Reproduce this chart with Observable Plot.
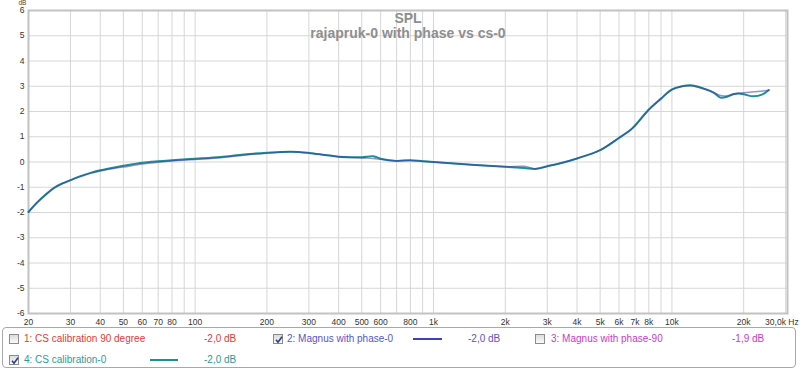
<!DOCTYPE html>
<html>
<head>
<meta charset="utf-8">
<script src="https://cdn.jsdelivr.net/npm/d3@7"></script>
<script src="https://cdn.jsdelivr.net/npm/@observablehq/plot@0.6"></script>
<style>
  html, body { margin: 0; padding: 0; background: #fff; }
  #wrap { position: relative; width: 800px; height: 372px; font-family: "Liberation Sans", Arial, sans-serif; }
  #legend { position: absolute; left: 2px; top: 327px; width: 794px; height: 41px; border: 1px solid #a8a8a8; border-radius: 4px; box-sizing: border-box; }
  .lg { position: absolute; font-size: 10px; line-height: 12px; white-space: nowrap; }
  .cb { position: absolute; width: 10px; height: 10px; box-sizing: border-box; border: 1px solid #8c8c8c; background: linear-gradient(#dcdcdc, #fafafa); }
  .cb svg { position: absolute; left: 0; top: 0; }
  .sw { position: absolute; height: 2px; }
</style>
</head>
<body>
<div id="wrap"></div>
<script>
// ---- data ----
const freqs   = [20, 21.8, 23.6, 25.5, 27.7, 30, 33, 36.4, 40, 44, 50, 60, 70, 80, 100, 128, 160, 200, 252, 300, 350, 400, 450, 500, 560, 600, 700, 800, 900, 1000, 1180, 1500, 2000, 2400, 2700, 3000, 3500, 4000, 5000, 6000, 6700, 7000, 8000, 9000, 10000, 11000, 12000, 13000, 14000, 15000, 16000, 17000, 18000, 19000, 20000, 22000, 24000, 25500];
const csCal0  = [-1.98, -1.59, -1.29, -1.03, -0.85, -0.72, -0.56, -0.43, -0.33, -0.25, -0.15, -0.03, 0.03, 0.07, 0.13, 0.20, 0.30, 0.37, 0.41, 0.36, 0.28, 0.21, 0.19, 0.19, 0.23, 0.13, 0.04, 0.07, 0.03, 0.00, -0.05, -0.12, -0.19, -0.24, -0.27, -0.17, -0.02, 0.14, 0.47, 0.95, 1.27, 1.45, 2.08, 2.51, 2.88, 3.00, 3.04, 2.97, 2.86, 2.74, 2.55, 2.58, 2.68, 2.71, 2.68, 2.60, 2.68, 2.85];
const magnus0 = [-1.98, -1.60, -1.31, -1.05, -0.86, -0.72, -0.58, -0.45, -0.36, -0.28, -0.20, -0.08, -0.01, 0.04, 0.10, 0.17, 0.27, 0.35, 0.41, 0.36, 0.28, 0.21, 0.18, 0.16, 0.14, 0.11, 0.05, 0.06, 0.03, 0.00, -0.05, -0.12, -0.19, -0.17, -0.27, -0.17, -0.02, 0.14, 0.47, 0.97, 1.27, 1.42, 2.06, 2.51, 2.86, 2.99, 3.02, 2.95, 2.87, 2.75, 2.63, 2.62, 2.67, 2.72, 2.74, 2.78, 2.81, 2.84];

const gridFreqs = [20, 30, 40, 50, 60, 70, 80, 90, 100, 200, 300, 400, 500, 600, 700, 800, 900, 1000, 2000, 3000, 4000, 5000, 6000, 7000, 8000, 9000, 10000, 20000, 30000];
const xTickValues = [20, 30, 40, 50, 60, 70, 80, 100, 200, 300, 400, 500, 600, 800, 1000, 2000, 3000, 4000, 5000, 6000, 7000, 8000, 10000, 20000];
const xTickLabels = ["20", "30", "40", "50", "60", "70", "80", "100", "200", "300", "400", "500", "600", "800", "1k", "2k", "3k", "4k", "5k", "6k", "7k", "8k", "10k", "20k"];
const xLastTick = [30000];
const xLastLabel = ["30,0k Hz"];
const yTickValues = [-6, -5, -4, -3, -2, -1, 0, 1, 2, 3, 4, 5, 6];

const titleText = "SPL";
const subtitleText = "rajapruk-0 with phase vs cs-0";

const legendItems = [
  {name: "1: CS calibration 90 degree", value: "-2,0 dB", checked: false, color: "#e03a3a", line: null},
  {name: "2: Magnus with phase-0", value: "-2,0 dB", checked: true, color: "#5656c8", line: "#4040b4"},
  {name: "3: Magnus with phase-90", value: "-1,9 dB", checked: false, color: "#c83cc8", line: null},
  {name: "4: CS calibration-0", value: "-2,0 dB", checked: true, color: "#2a9a9a", line: "#1f9090"}
];

const tealData = freqs.map((f, i) => ({f, db: csCal0[i]}));
const blueData = freqs.map((f, i) => ({f, db: magnus0[i]}));
const xTicks = xTickValues.map((v, i) => ({v, label: xTickLabels[i]}));
const xLast = xLastTick.map((v, i) => ({v, label: xLastLabel[i]}));

const chart = Plot.plot({
  width: 800,
  height: 328,
  marginLeft: 28,
  marginRight: 13,
  marginTop: 10,
  marginBottom: 15,
  style: {fontFamily: "'Liberation Sans', Arial, sans-serif", background: "#fff"},
  x: {type: "log", domain: [20, 30540], axis: null},
  y: {domain: [-6, 6], axis: null},
  marks: [
    Plot.ruleX(gridFreqs, {stroke: "#d6d6d6", strokeWidth: 1}),
    Plot.ruleY(yTickValues, {stroke: "#d6d6d6", strokeWidth: 1}),
    Plot.frame({stroke: "#c2c2c2", strokeWidth: 2}),
    Plot.text(xTicks, {x: "v", text: "label", frameAnchor: "bottom", lineAnchor: "top", dy: 5, fontSize: 8.5, fill: "#333"}),
    Plot.text(xLast, {x: "v", text: "label", frameAnchor: "bottom", lineAnchor: "top", textAnchor: "end", dx: 13, dy: 5, fontSize: 8.5, fill: "#333"}),
    Plot.text(yTickValues, {y: d => d, text: d => String(d), frameAnchor: "left", textAnchor: "end", dx: -4, fontSize: 8.5, fill: "#333"}),
    Plot.text([titleText], {frameAnchor: "top", dy: 3, fontSize: 14, fontWeight: "bold", fill: "#8e8e8e"}),
    Plot.text([subtitleText], {frameAnchor: "top", dy: 18, fontSize: 14, fontWeight: "bold", fill: "#8e8e8e"}),
    Plot.text(["dB"], {frameAnchor: "top-left", dx: -10, dy: -10, fontSize: 6.5, fill: "#444"}),
    Plot.line(tealData, {x: "f", y: "db", stroke: "#1f9090", strokeWidth: 2, curve: "catmull-rom"}),
    Plot.line(blueData, {x: "f", y: "db", stroke: "#3a3ab0", strokeWidth: 1.5, strokeOpacity: 0.55, curve: "catmull-rom"})
  ]
});

const wrap = document.getElementById("wrap");
wrap.appendChild(chart);
chart.style.position = "absolute";
chart.style.left = "0";
chart.style.top = "0";

const legend = document.createElement("div");
legend.id = "legend";
wrap.appendChild(legend);

const layout = [
  {cb: [9, 334], text: [24, 333], val: [204, 333], line: null},
  {cb: [273, 334], text: [287, 333], val: [468, 333], line: [413, 338, 29]},
  {cb: [535, 334], text: [551, 333], val: [732, 333], line: null},
  {cb: [9, 355], text: [24, 354], val: [204, 354], line: [150, 359, 28]}
];

const checkSvg = '<svg width="10" height="10" viewBox="0 0 10 10"><path d="M2 4.8 L4 7.2 L8 1.8" fill="none" stroke="#2b3f8f" stroke-width="1.6"/></svg>';

legendItems.forEach((it, i) => {
  const L = layout[i];
  const cb = document.createElement("div");
  cb.className = "cb";
  cb.style.left = L.cb[0] + "px";
  cb.style.top = L.cb[1] + "px";
  if (it.checked) cb.innerHTML = checkSvg;
  wrap.appendChild(cb);

  const t = document.createElement("div");
  t.className = "lg";
  t.style.left = L.text[0] + "px";
  t.style.top = L.text[1] + "px";
  t.style.color = it.color;
  t.textContent = it.name;
  wrap.appendChild(t);

  const v = document.createElement("div");
  v.className = "lg";
  v.style.left = L.val[0] + "px";
  v.style.top = L.val[1] + "px";
  v.style.color = it.color;
  v.textContent = it.value;
  wrap.appendChild(v);

  if (L.line && it.line) {
    const s = document.createElement("div");
    s.className = "sw";
    s.style.left = L.line[0] + "px";
    s.style.top = L.line[1] + "px";
    s.style.width = L.line[2] + "px";
    s.style.background = it.line;
    wrap.appendChild(s);
  }
});
</script>
</body>
</html>
